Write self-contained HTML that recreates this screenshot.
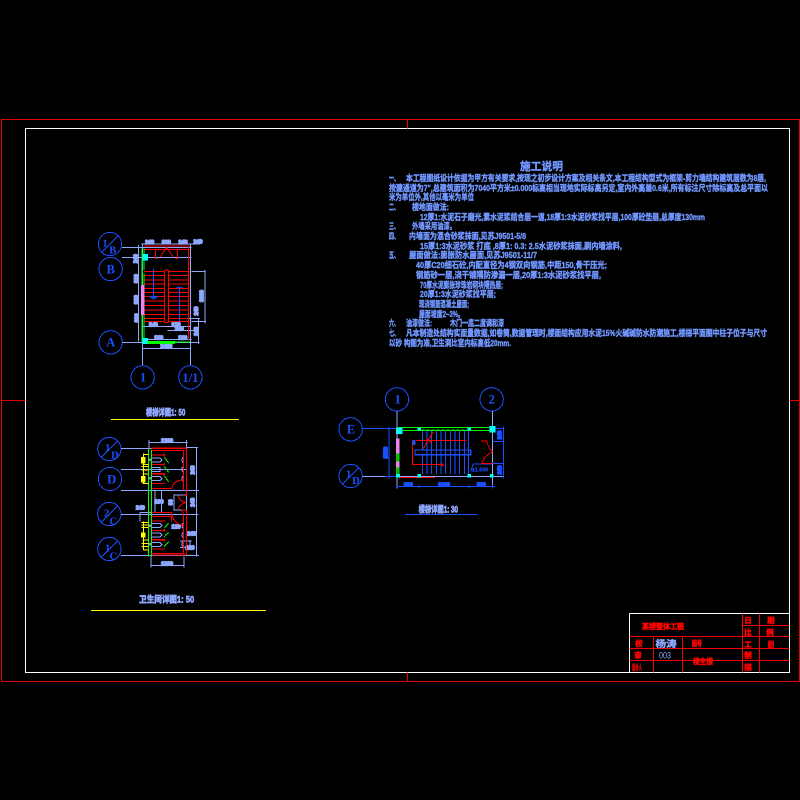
<!DOCTYPE html>
<html><head><meta charset="utf-8">
<style>
html,body{margin:0;padding:0;background:#000;width:800px;height:800px;overflow:hidden}
svg{display:block}
text{font-family:"Liberation Sans","Noto Sans CJK SC",sans-serif}
.n{font-size:8.6px;font-weight:700;fill:#7096ff;stroke:#7096ff;stroke-width:.4}
.l{stroke:#8fa8ff;stroke-width:3;fill:none}
.b{stroke:#1a4fff;stroke-width:3;fill:none}
.r{stroke:#ff0000;stroke-width:3;fill:none}
.g{stroke:#00ff00;stroke-width:3;fill:none}
.y{stroke:#ffff00;stroke-width:3;fill:none}
.c{stroke:#1a4fff;stroke-width:3;fill:none}
.a{fill:#1a4fff;font-size:38px;font-weight:700;text-anchor:middle;font-family:"Liberation Serif",serif}
.s{fill:#1a4fff;font-size:32px;font-weight:700;text-anchor:middle;font-family:"Liberation Serif",serif}
.d{fill:#8fa8ff;stroke:#8fa8ff;stroke-width:4;font-size:16px;font-weight:700;text-anchor:middle}
.db{fill:#1a4fff;stroke:#1a4fff;stroke-width:4;font-size:16px;font-weight:700;text-anchor:middle}
.t{fill:#8fa8ff;stroke:#8fa8ff;stroke-width:.4;font-size:9px;font-weight:700;text-anchor:middle}
.tt{fill:#8fa8ff;stroke:#8fa8ff;stroke-width:2;font-size:28px;font-weight:700;text-anchor:middle}
.tr{fill:#ff0000;stroke:#ff0000;stroke-width:.5;font-size:7.5px;font-weight:700;text-anchor:middle}
</style></head>
<body>
<svg xmlns="http://www.w3.org/2000/svg" width="800" height="800" viewBox="0 0 800 800" shape-rendering="crispEdges">
<rect width="800" height="800" fill="#000"/>

<!-- Sheet frames -->
<g fill="none" transform="translate(.5 .5)">
<rect x="1" y="119" width="798" height="562" stroke="#e00000"/>
<rect x="25" y="128" width="764" height="544" stroke="#fff"/>
<path d="M407 119V128M407 672V681M1 400H25M789 400H799" stroke="#e00000"/>
<!-- Title block -->
<path d="M629 613H789M629 613V672" stroke="#fff"/>
<path d="M629 636H789M629 648H789M629 660H789M742 625H789M653 636V672M682 636V672M742 613V672M759 613V672" stroke="#f00000"/>
</g>
<text x="663" y="629" class="tr" textLength="42" lengthAdjust="spacingAndGlyphs">某楼整体工程</text>
<text x="639" y="646" class="tr">校</text>
<text x="666" y="647" class="t" textLength="21" lengthAdjust="spacingAndGlyphs">杨涛</text>
<text x="697" y="646" class="tr" textLength="10" lengthAdjust="spacingAndGlyphs">图号</text>
<text x="638" y="658" class="tr">审</text>
<text x="665" y="658.500" class="t" style="font-weight:400;stroke-width:0" textLength="12" lengthAdjust="spacingAndGlyphs">003</text>
<text x="637" y="670" class="tr" textLength="10" lengthAdjust="spacingAndGlyphs">设计人</text>
<text x="703" y="664" class="tr" textLength="20" lengthAdjust="spacingAndGlyphs">楼主楼</text>
<text x="748" y="623" class="tr">日</text><text x="771" y="623" class="tr">期</text>
<text x="748" y="635" class="tr">比</text><text x="770" y="635" class="tr">例</text>
<text x="748" y="647" class="tr">工</text><text x="771" y="647" class="tr" textLength="6" lengthAdjust="spacingAndGlyphs">图别</text>
<text x="748" y="658" class="tr">制</text>
<text x="748" y="670" class="tr">描</text>

<!-- Notes -->
<text x="520" y="170" style="font-size:11px;font-weight:700;fill:#7096ff;stroke:#7096ff;stroke-width:.4" textLength="43" lengthAdjust="spacingAndGlyphs">施工说明</text>
<g class="n">
<text x="389" y="181" textLength="10" lengthAdjust="spacingAndGlyphs">一、</text>
<text x="406" y="181" textLength="360" lengthAdjust="spacingAndGlyphs">本工程图纸设计依据为甲方有关要求,按现之初步设计方案及相关条文,本工程结构型式为框架-剪力墙结构建筑层数为8层,</text>
<text x="389" y="191" textLength="379" lengthAdjust="spacingAndGlyphs">按建通道为7&quot;,总建筑面积为7040平方米±0.000标高相当现地实际标高另定,室内外高差0.6米,所有标注尺寸除标高及总平面以</text>
<text x="389" y="200" textLength="85" lengthAdjust="spacingAndGlyphs">米为单位外,其他以毫米为单位</text>
<text x="389" y="210" textLength="10" lengthAdjust="spacingAndGlyphs">二、</text>
<text x="412" y="210" textLength="37" lengthAdjust="spacingAndGlyphs">楼地面做法:</text>
<text x="420" y="220" textLength="285" lengthAdjust="spacingAndGlyphs">12厚1:水泥石子磨光,素水泥浆结合层一道,18厚1:3水泥砂浆找平层,100厚砼垫层,总厚度130mm</text>
<text x="389" y="229" textLength="10" lengthAdjust="spacingAndGlyphs">三、</text>
<text x="412" y="229" textLength="44" lengthAdjust="spacingAndGlyphs">外墙采用油漆。</text>
<text x="389" y="239" textLength="10" lengthAdjust="spacingAndGlyphs">四、</text>
<text x="409" y="239" textLength="117" lengthAdjust="spacingAndGlyphs">内墙面为混合砂浆抹面,见苏J9501-5/8</text>
<text x="420" y="249" textLength="202" lengthAdjust="spacingAndGlyphs">15厚1:3水泥砂浆 打底 ,8厚1: 0.3: 2.5水泥砂浆抹面,刷内墙涂料,</text>
<text x="389" y="258" textLength="10" lengthAdjust="spacingAndGlyphs">五、</text>
<text x="409" y="258" textLength="128" lengthAdjust="spacingAndGlyphs">屋面做法:膨胀防水屋面,见苏J9501-11/7</text>
<text x="416" y="268" textLength="191" lengthAdjust="spacingAndGlyphs">40厚C20细石砼,内配直径为4钢双向钢筋,中距150,骨干压光;</text>
<text x="416" y="278" textLength="185" lengthAdjust="spacingAndGlyphs">钢筋砂一层,浇干铺隔防渗漏一层,20厚1:3水泥砂浆找平层,</text>
<text x="420" y="288" textLength="83" lengthAdjust="spacingAndGlyphs">70厚水泥膨胀珍珠岩砌块隔热层;</text>
<text x="420" y="297" textLength="76" lengthAdjust="spacingAndGlyphs">20厚1:3水泥砂浆找平层;</text>
<text x="419" y="307" textLength="50" lengthAdjust="spacingAndGlyphs">现浇钢筋混凝土屋面;</text>
<text x="419" y="317" textLength="45" lengthAdjust="spacingAndGlyphs">屋面坡度2~3%。</text>
<text x="389" y="326" textLength="10" lengthAdjust="spacingAndGlyphs">六、</text>
<text x="406" y="326" textLength="26" lengthAdjust="spacingAndGlyphs">油漆做法:</text>
<text x="450" y="326" textLength="54" lengthAdjust="spacingAndGlyphs">木门一底二度调和漆</text>
<text x="389" y="336" textLength="10" lengthAdjust="spacingAndGlyphs">七、</text>
<text x="406" y="336" textLength="361" lengthAdjust="spacingAndGlyphs">凡本制造处结构实面量数据,如卷筒,数据管理时,楼面结构应用水泥15%火碱碱防水防潮施工,楼梯平面图中柱子位子与尺寸</text>
<text x="389" y="346" textLength="122" lengthAdjust="spacingAndGlyphs">以砂 构图为准,卫生洞比室内标高低20mm.</text>
</g>

<!-- Stair plan 1 (zoom coordinates) -->
<g transform="translate(80 220) scale(.33333)">
<g class="c">
<circle cx="90" cy="72" r="35"/><path d="M65 97L115 47"/>
<circle cx="92" cy="147" r="35"/><circle cx="92" cy="367" r="35"/>
<circle cx="188" cy="472" r="35"/><circle cx="331" cy="472" r="35"/>
</g>
<text x="75" y="80" class="s">1</text><text x="98" y="100" class="s">B</text>
<text x="92" y="160" class="a">B</text><text x="92" y="380" class="a">A</text>
<text x="189" y="485" class="a">1</text><text x="331" y="486" class="a">1/1</text>
<path class="l" d="M126 82H335M126 112H335M126 367H358M187 72V435M331 72V435M187 385H331M175 75V365M165 82H187M165 367H187M185 72H360M335 155H375M375 150V310M335 305H378M355 295V372M187 320H330M262 332H355M190 358H335M325 295H360"/>
<g class="d">
<text x="209" y="72">240</text><text x="259" y="72">900</text><text x="309" y="72">240</text><text x="354" y="70">240</text>
<text x="220" y="320">240</text><text x="288" y="320">120</text><text x="298" y="331">240</text>
<text x="236" y="358">120</text><text x="308" y="358">120</text><text x="259" y="384">2400</text>
<text transform="translate(173 116) rotate(-90)">240</text>
<text transform="translate(174 176) rotate(-90)">600</text>
<text transform="translate(174 239) rotate(-90)">900</text>
<text transform="translate(175 294) rotate(-90)">600</text>
<text transform="translate(354 273) rotate(-90)">240</text>
<text transform="translate(354 334) rotate(-90)">240</text>
<text transform="translate(371 228) rotate(-90)">3600</text>
</g>
<path class="r" d="M192 78H330M192 88H326M326 78V360M226 88V115M292 88V115M260 82L240 112M260 82L280 112M226 115H232M286 115H292M253 150H266M253 150V308M266 150V308M253 308H266"/>
<path class="r" d="M192 155H253M266 155H326M192 167H253M266 167H326M192 180H253M266 180H326M192 192H253M266 192H326M192 205H253M266 205H326M192 218H253M266 218H326M192 230H253M266 230H326M192 243H253M266 243H326M192 256H253M266 256H326M192 270H253M266 270H326M192 283H253M266 283H326M192 295H253M266 295H326M192 305H253M266 305H326"/>
<path class="b" d="M220 145V238M208 230H232M298 205V305M288 205Q298 198 310 205M210 230Q220 240 232 230"/>
<path class="g" d="M192 85V150M192 160V195M192 285V365M186 85V365"/>
<rect x="183" y="195" width="10" height="90" fill="#ee82ee"/>
<rect x="187" y="102" width="17" height="20" fill="#00ffff"/>
<rect x="187" y="354" width="17" height="18" fill="#00ffff"/>
<rect x="203" y="363" width="82" height="9" fill="#00ff00"/>
<path class="g" d="M285 366H330"/>
<text x="257" y="587" class="tt" textLength="118" lengthAdjust="spacingAndGlyphs">楼梯详图1: 50</text>
<rect x="93" y="597" width="384" height="3" fill="#ffff00"/>
</g>

<!-- Toilet plan -->
<g transform="translate(80 425) scale(.33333)">
<g class="c">
<circle cx="88" cy="72" r="35"/><path d="M63 97L113 47"/>
<circle cx="90" cy="162" r="35"/>
<circle cx="88" cy="267" r="35"/><path d="M63 292L113 242"/>
<circle cx="88" cy="372" r="35"/><path d="M63 397L113 347"/>
</g>
<text x="83" y="78" class="s">1</text><text x="105" y="100" class="s">D</text>
<text x="95" y="175" class="a">D</text>
<text x="80" y="274" class="s">2</text><text x="100" y="298" class="s">C</text>
<text x="83" y="380" class="s">1</text><text x="100" y="403" class="s">C</text>
<path class="l" d="M123 70H320M123 133H320M123 196H320M123 268H355M123 391H355M205 52H322M207 45V70M320 45V70M350 68V395M320 68H354M320 196H357M320 391H357M213 421H312M213 395V427M312 395V427M225 196V262M245 196V262M225 262H245M225 196H245M282 210H320V255H282ZM180 262H215M180 262V290M330 345V370M300 348H335M300 368H335"/>
<g class="d">
<text x="261" y="52">1200</text><text x="261" y="421">1200</text>
<text x="181" y="254">240</text><text x="237" y="236">100</text>
<text transform="translate(343 135) rotate(-90)">240</text>
<text transform="translate(343 232) rotate(-90)">240</text>
<text x="335" y="331">240</text><text x="330" y="373">120</text>
<text transform="translate(278 232) rotate(-90)">90</text>
<text x="288" y="311">120</text>
</g>
<!-- fixtures -->
<path class="l" d="M215 99H240L246 105L240 111H215ZM215 127H240V139H215ZM215 155H240L246 161L240 167H215ZM215 296H240L246 302L240 308H215ZM215 324H240L246 330L240 336H215ZM215 352H240L246 358L240 364H215ZM310 97A8 9 0 0 0 310 113M310 125A8 9 0 0 0 310 141M310 153A8 9 0 0 0 310 169M310 294A8 9 0 0 0 310 310M310 322A8 9 0 0 0 310 338M310 350A8 9 0 0 0 310 366"/>
<path d="M205 100h10v8h-10zM205 156h10v8h-10zM205 298h10v8h-10zM205 354h10v8h-10z" fill="#c070e0"/>
<path class="r" d="M215 77H310M310 77V197M310 212H320M320 70V212M215 190H275M275 190C280 170 295 165 310 165M215 118H255M215 175H255M215 262H275M275 262V290M215 275H275M275 270C285 295 300 300 310 300M310 262V385M320 255V390M215 385H310M215 316H255M215 372H255M295 212Q300 232 320 232Q300 235 295 252M306 262V255H320"/>
<path d="M215 68h105v4H215zM215 88h40v4H215zM215 144h40v4H215zM215 286h40v4H215zM215 342h40v4H215zM215 389h105v3H215zM250 114h5v8h-5zM250 144h5v8h-5zM250 86h5v8h-5zM250 312h5v8h-5zM250 342h5v8h-5z" fill="#ff0000"/>
<path class="g" d="M253 97L266 114M253 125L266 142M253 153L266 170M252 310L266 295M252 337L266 322M252 365L266 350M205 70V395M215 75V395"/>
<path class="y" d="M190 85V175M190 88H205M187 118H205M185 125H205M185 135H205M187 147H205M187 175H205M190 290V375M185 292H205M185 300H205M185 308H205M187 345H205M185 355H205M185 365H205M190 375H205"/>
<path d="M183 96h14v20h-14zM183 153h14v20h-14zM183 322h14v16h-14z" fill="#ffff00"/>
<text x="260" y="532" class="tt" textLength="165" lengthAdjust="spacingAndGlyphs">卫生间详图1: 50</text>
<rect x="33" y="555" width="525" height="3" fill="#ffff00"/>
</g>

<!-- Stair plan 2 -->
<g transform="translate(330 380) scale(.33333)">
<g class="c">
<circle cx="201" cy="58" r="35"/><circle cx="485" cy="58" r="35"/>
<circle cx="62" cy="148" r="35"/><circle cx="62" cy="288" r="35"/><path d="M37 313L87 263"/>
</g>
<text x="203" y="70" class="a">1</text><text x="485" y="70" class="a">2</text><text x="63" y="160" class="a">E</text>
<text x="56" y="292" class="s">1</text><text x="78" y="312" class="s">D</text>
<path class="l" d="M201 93V325M487 93V325M97 290H520"/>
<path class="b" d="M97 145H200M177 140V295M165 145H200M165 290H200M200 320H495M203 315V326M267 315V326M417 315V326M487 315V326M487 145H520M487 185H520M487 250H520M520 140V295M422 275L430 252H487"/>
<path class="b" d="M277 152V210M291 152V282M305 152V282M319 152V282M333 152V282M347 152V282M361 152V282M375 152V282M389 152V282M403 152V282M415 152V282M277 224V282"/>
<rect x="255" y="210" width="167" height="14" fill="none" stroke="#1a4fff" stroke-width="4"/>
<path class="g" d="M205 143H490M205 151H490"/>
<path d="M275 150h140" stroke="#00ff00" stroke-width="3" stroke-dasharray="9 6"/>
<path class="r" d="M258 181H410M247 181V254M247 254H335M280 205L310 155M290 175L305 190M453 183H470Q476 205 487 215Q465 225 455 250H487M205 292H315"/>
<path d="M332 250h8v8h-8z" fill="#ff0000"/>
<rect x="247" y="180" width="10" height="15" fill="#1a4fff"/>
<rect x="198" y="175" width="10" height="90" fill="#ee82ee"/>
<rect x="198" y="220" width="10" height="25" fill="#00c000"/>
<rect x="198" y="262" width="10" height="24" fill="#00c000"/>
<g fill="#00ffff">
<rect x="198" y="142" width="20" height="20"/>
<rect x="262" y="142" width="11" height="10"/>
<rect x="412" y="142" width="11" height="10"/>
<rect x="478" y="138" width="19" height="20"/>
<rect x="198" y="282" width="12" height="10"/>
<rect x="262" y="282" width="11" height="11"/>
<rect x="412" y="282" width="11" height="11"/>
<rect x="480" y="282" width="10" height="10"/>
</g>
<g class="db">
<text x="235" y="319">600</text><text x="342" y="319">1800</text>
<text x="454" y="319">600</text>
<text transform="translate(173 218) rotate(-90)">1500</text>
<text transform="translate(515 165) rotate(-90)">240</text>
<text transform="translate(515 270) rotate(-90)">240</text>
<text x="450" y="274" style="stroke-width:.5">±1.500</text>
</g>
<text x="325" y="397" class="tt" textLength="118" lengthAdjust="spacingAndGlyphs">楼梯详图1: 30</text>
<rect x="225" y="402" width="218" height="3" fill="#1a4fff"/>
</g>
</svg>
</body></html>
